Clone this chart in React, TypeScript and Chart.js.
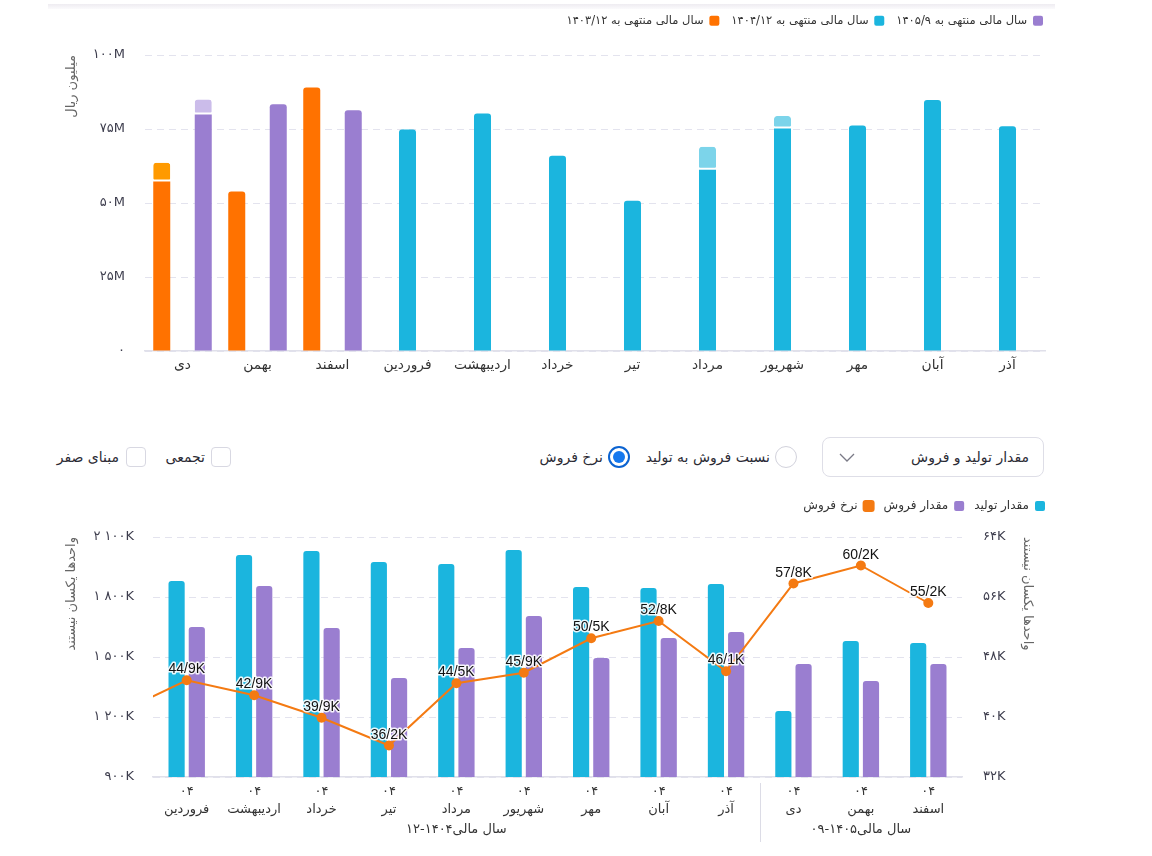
import React, { useEffect, useRef } from 'react';
import { Chart, registerables } from 'chart.js';

Chart.register(...registerables);

const FA_DIGITS = '۰۱۲۳۴۵۶۷۸۹';
const toFa = (s: string) => s.replace(/[0-9]/g, (d) => FA_DIGITS[Number(d)]);
const LRM = '\u200E';

const FONT = "'DejaVu Sans', sans-serif";
const LABEL_FONT = "'Liberation Sans', Arial, sans-serif";

const CYAN = '#1bb5de';
const CYAN_LIGHT = '#7cd4ea';
const PURPLE = '#9a7ed0';
const PURPLE_LIGHT = '#cbbcea';
const ORANGE = '#ff7200';
const ORANGE_LIGHT = '#ff9a00';
const LINE_ORANGE = '#f47a12';
const GRID = '#e3e3ee';
const AXIS = '#e0e0ea';
const TICK = '#3e3e4e';

// ---- monthly revenue (million rials) ----
const revenueMonths = ['دی', 'بهمن', 'اسفند', 'فروردین', 'اردیبهشت', 'خرداد', 'تیر', 'مرداد', 'شهریور', 'مهر', 'آبان', 'آذر'];
const revenueSeriesNames = ['سال مالی منتهی به ۱۴۰۳/۱۲', 'سال مالی منتهی به ۱۴۰۴/۱۲', 'سال مالی منتهی به ۱۴۰۵/۹'];
const fy1403 = [57.3, 53.9, 89.0, null, null, null, null, null, null, null, null, null];
const fy1403Extra = [6.3, null, null, null, null, null, null, null, null, null, null, null];
const fy1404 = [null, null, null, 74.8, 80.2, 66.0, 50.8, 61.2, 75.2, 76.2, 84.8, 75.9];
const fy1404Extra = [null, null, null, null, null, null, null, 7.8, 4.2, null, null, null];
const fy1405 = [79.9, 83.4, 81.3, null, null, null, null, null, null, null, null, null];
const fy1405Extra = [5.1, null, null, null, null, null, null, null, null, null, null, null];
const revenueAxisMin = 0;
const revenueAxisMax = 100;
const revenueAxisStep = 25;
const revenueAxisTitle = 'میلیون ریال';

// ---- production / sales (K units) and sale rate ----
const periodMonths = ['اسفند', 'فروردین', 'اردیبهشت', 'خرداد', 'تیر', 'مرداد', 'شهریور', 'مهر', 'آبان', 'آذر', 'دی', 'بهمن', 'اسفند'];
const periodYear = '۰۴';
const firstShownPeriod = 1;
const production = [null, 1880, 2010, 2030, 1975, 1965, 2035, 1850, 1845, 1865, 1230, 1580, 1570];
const sales = [null, 1650, 1855, 1645, 1395, 1545, 1705, 1495, 1595, 1625, 1465, 1380, 1465];
const saleRate = [40.6, 44.9, 42.9, 39.9, 36.2, 44.5, 45.9, 50.5, 52.8, 46.1, 57.8, 60.2, 55.2];
const periodSeriesNames = ['مقدار تولید', 'مقدار فروش', 'نرخ فروش'];
const fiscalGroups = ['سال مالی۱۴۰۴-۱۲', 'سال مالی۱۴۰۵-۰۹'];
const fiscalGroupFirst = [1, 10];
const fiscalGroupLast = [9, 12];
const qtyAxisMin = 900;
const qtyAxisMax = 2100;
const qtyAxisStep = 300;
const rateAxisMin = 32;
const rateAxisMax = 64;
const rateAxisStep = 8;
const unitsNote = 'واحدها یکسان نیستند';

const fmtK = (v: number) => {
  const th = Math.floor(v / 1000);
  const rest = v % 1000;
  const s = th ? `${th} ${String(rest).padStart(3, '0')}` : String(rest);
  return LRM + toFa(s) + 'K';
};

// extra room under the legend box, and an optional horizontal nudge
const legendTweak = (extra: number, dx: number) => ({
  id: 'legendTweak',
  beforeInit(chart: any) {
    const lg = chart.legend;
    if (!lg) return;
    const orig = lg.fit;
    lg.fit = function fit() {
      orig.call(this);
      this.height += extra;
    };
  },
  afterLayout(chart: any) {
    const lg = chart.legend;
    if (!lg || !dx) return;
    lg.left += dx;
    lg.right += dx;
  },
});

const rateLabels = {
  id: 'rateLabels',
  afterDatasetsDraw(chart: any) {
    const meta = chart.getDatasetMeta(2);
    const ctx = chart.ctx;
    ctx.save();
    ctx.font = `14px ${LABEL_FONT}`;
    ctx.textAlign = 'center';
    ctx.textBaseline = 'alphabetic';
    ctx.lineJoin = 'round';
    meta.data.forEach((pt: any, i: number) => {
      if (i < firstShownPeriod) return;
      const text = saleRate[i].toFixed(1).replace('.', '/') + 'K';
      ctx.lineWidth = 3;
      ctx.strokeStyle = 'rgba(255,255,255,0.9)';
      ctx.strokeText(text, pt.x, pt.y - 7);
      ctx.fillStyle = '#111';
      ctx.fillText(text, pt.x, pt.y - 7);
    });
    ctx.restore();
  },
};

const fiscalGroupLabels = {
  id: 'fiscalGroupLabels',
  afterDraw(chart: any) {
    const x = chart.scales.x;
    const area = chart.chartArea;
    const ctx = chart.ctx;
    ctx.save();
    ctx.font = `13px ${FONT}`;
    ctx.fillStyle = '#333';
    ctx.textAlign = 'center';
    ctx.textBaseline = 'middle';
    fiscalGroups.forEach((label, g) => {
      const cx = (x.getPixelForValue(fiscalGroupFirst[g]) + x.getPixelForValue(fiscalGroupLast[g])) / 2;
      ctx.fillText(label, cx, area.bottom + 53);
      if (g > 0) {
        const sx = Math.round((x.getPixelForValue(fiscalGroupFirst[g] - 1) + x.getPixelForValue(fiscalGroupFirst[g])) / 2) + 0.5;
        ctx.strokeStyle = '#dcdce6';
        ctx.lineWidth = 1;
        ctx.beginPath();
        ctx.moveTo(sx, area.bottom + 6);
        ctx.lineTo(sx, area.bottom + 65);
        ctx.stroke();
      }
    });
    ctx.restore();
  },
};

function RevenueChart() {
  const ref = useRef<HTMLCanvasElement>(null);
  useEffect(() => {
    const base = { borderRadius: 3, categoryPercentage: 0.83, barPercentage: 0.82, borderWidth: 0 };
    const extra = {
      borderRadius: 3,
      categoryPercentage: 0.83,
      barPercentage: 0.82,
      borderSkipped: false,
      borderWidth: { top: 0, left: 0, right: 0, bottom: 2 },
      borderColor: '#ffffff',
    };
    const chart = new Chart(ref.current as HTMLCanvasElement, {
      type: 'bar',
      data: {
        labels: revenueMonths,
        datasets: [
          { ...base, label: revenueSeriesNames[0], data: fy1403, backgroundColor: ORANGE, stack: 'a' },
          { ...extra, label: revenueSeriesNames[0], data: fy1403Extra, backgroundColor: ORANGE_LIGHT, stack: 'a' },
          { ...base, label: revenueSeriesNames[1], data: fy1404, backgroundColor: CYAN, stack: 'b' },
          { ...extra, label: revenueSeriesNames[1], data: fy1404Extra, backgroundColor: CYAN_LIGHT, stack: 'b' },
          { ...base, label: revenueSeriesNames[2], data: fy1405, backgroundColor: PURPLE, stack: 'c' },
          { ...extra, label: revenueSeriesNames[2], data: fy1405Extra, backgroundColor: PURPLE_LIGHT, stack: 'c' },
        ] as any,
      },
      options: {
        animation: false,
        responsive: false,
        layout: { padding: { right: 10, top: 3 } },
        plugins: {
          legend: {
            position: 'top',
            align: 'start',
            rtl: true,
            textDirection: 'rtl',
            reverse: true,
            labels: {
              filter: (it: any) => it.datasetIndex % 2 === 0,
              boxWidth: 10,
              boxHeight: 10,
              padding: 12,
              color: '#333',
              useBorderRadius: true,
              borderRadius: 2,
              font: { family: FONT, size: 11.5 },
            },
          },
          tooltip: { enabled: false },
        },
        scales: {
          x: {
            stacked: true,
            grid: { display: false, drawTicks: false },
            border: { display: true, color: AXIS, width: 1.5 },
            ticks: { font: { family: FONT, size: 13.8 }, color: '#333', padding: 6, maxRotation: 0, autoSkip: false },
            afterFit: (s: any) => { s.height = 39; },
          },
          y: {
            stacked: true,
            min: revenueAxisMin,
            max: revenueAxisMax,
            ticks: {
              stepSize: revenueAxisStep,
              padding: 20,
              color: TICK,
              font: { family: FONT, size: 13 },
              callback: (v: any) => LRM + (v === 0 ? toFa('0') : toFa(String(v)) + 'M'),
            },
            grid: { color: GRID, drawTicks: false, lineWidth: 1 },
            border: { display: false, dash: [7, 5] },
            title: {
              display: true,
              text: revenueAxisTitle,
              align: 'end',
              color: '#666',
              font: { family: FONT, size: 13 },
              padding: { top: 16, bottom: 0 },
            },
            afterFit: (s: any) => { s.width = 97; },
          },
        },
      } as any,
      plugins: [legendTweak(18.5, 10)],
    });
    return () => chart.destroy();
  }, []);
  return (
    <canvas
      ref={ref}
      width={1007}
      height={390}
      style={{ position: 'absolute', left: 48, top: 0, width: 1007, height: 390 }}
    />
  );
}

function PeriodChart() {
  const ref = useRef<HTMLCanvasElement>(null);
  useEffect(() => {
    const chart = new Chart(ref.current as HTMLCanvasElement, {
      type: 'bar',
      data: {
        labels: periodMonths.map((m) => [periodYear, m]),
        datasets: [
          {
            type: 'bar', label: periodSeriesNames[0], data: production, backgroundColor: CYAN, yAxisID: 'y',
            borderRadius: 3, categoryPercentage: 0.6, barPercentage: 0.8, order: 1,
          },
          {
            type: 'bar', label: periodSeriesNames[1], data: sales, backgroundColor: PURPLE, yAxisID: 'y',
            borderRadius: 3, categoryPercentage: 0.6, barPercentage: 0.8, order: 1,
          },
          {
            type: 'line', label: periodSeriesNames[2], data: saleRate, yAxisID: 'y1',
            borderColor: LINE_ORANGE, backgroundColor: LINE_ORANGE, borderWidth: 2,
            pointRadius: 5, pointBackgroundColor: LINE_ORANGE, pointBorderColor: LINE_ORANGE, pointBorderWidth: 0,
            tension: 0, order: 0,
          },
        ] as any,
      },
      options: {
        animation: false,
        responsive: false,
        plugins: {
          legend: {
            position: 'top',
            align: 'start',
            rtl: true,
            textDirection: 'rtl',
            labels: {
              sort: (a: any, b: any) => a.datasetIndex - b.datasetIndex,
              boxWidth: 10,
              boxHeight: 10,
              padding: 10,
              color: '#333',
              useBorderRadius: true,
              borderRadius: 2,
              font: { family: FONT, size: 12 },
            },
          },
          tooltip: { enabled: false },
        },
        scales: {
          x: {
            min: firstShownPeriod,
            grid: { display: false, drawTicks: false },
            border: { display: true, color: AXIS, width: 1.5 },
            ticks: {
              font: { family: FONT, size: 13, lineHeight: 1.385 },
              color: '#333',
              padding: 6,
              maxRotation: 0,
              autoSkip: false,
            },
            afterFit: (s: any) => { s.height = 79; },
          },
          y: {
            position: 'left',
            min: qtyAxisMin,
            max: qtyAxisMax,
            ticks: {
              stepSize: qtyAxisStep,
              padding: 19,
              color: TICK,
              font: { family: FONT, size: 13 },
              callback: (v: any) => fmtK(Number(v)),
            },
            grid: { color: GRID, drawTicks: false, lineWidth: 1 },
            border: { display: false, dash: [7, 5] },
            title: {
              display: true,
              text: unitsNote,
              align: 'end',
              color: '#666',
              font: { family: FONT, size: 13 },
              padding: { top: 16, bottom: 0 },
            },
            afterFit: (s: any) => { s.width = 105; },
          },
          y1: {
            position: 'right',
            min: rateAxisMin,
            max: rateAxisMax,
            ticks: {
              stepSize: rateAxisStep,
              padding: 21,
              color: TICK,
              font: { family: FONT, size: 13 },
              callback: (v: any) => LRM + toFa(String(v)) + 'K',
            },
            grid: { display: false, drawTicks: false },
            border: { display: false },
            title: {
              display: true,
              text: unitsNote,
              align: 'end',
              color: '#666',
              font: { family: FONT, size: 13 },
              padding: { top: 20, bottom: 0 },
            },
            afterFit: (s: any) => { s.width = 93; },
          },
        },
      } as any,
      plugins: [legendTweak(15, 0), rateLabels, fiscalGroupLabels],
    });
    return () => chart.destroy();
  }, []);
  return (
    <canvas
      ref={ref}
      width={1007}
      height={366}
      style={{ position: 'absolute', left: 48, top: 490, width: 1007, height: 366 }}
    />
  );
}

const textStyle: React.CSSProperties = {
  position: 'absolute',
  fontFamily: FONT,
  fontSize: 14,
  color: '#2b2b35',
  lineHeight: '20px',
  whiteSpace: 'nowrap',
  direction: 'rtl',
};

function Controls() {
  return (
    <>
      {/* view selector */}
      <div
        style={{
          position: 'absolute', left: 822, top: 437, width: 222, height: 40, boxSizing: 'border-box',
          border: '1px solid #dedee7', borderRadius: 8, background: '#fff',
        }}
      >
        <span style={{ ...textStyle, right: 14, top: 9 }}>مقدار تولید و فروش</span>
        <svg width="16" height="10" style={{ position: 'absolute', left: 16, top: 15 }}>
          <polyline points="1,1 8,8 15,1" fill="none" stroke="#7a7a86" strokeWidth="1.3" />
        </svg>
      </div>

      {/* radio: ratio */}
      <div
        style={{
          position: 'absolute', left: 775, top: 446, width: 22, height: 22, boxSizing: 'border-box',
          borderRadius: '50%', border: '1px solid #d2d2dc', background: '#fff',
        }}
      />
      <span style={{ ...textStyle, right: 1152 - 770, top: 447 }}>نسبت فروش به تولید</span>

      {/* radio: sale rate (selected) */}
      <div
        style={{
          position: 'absolute', left: 608, top: 446, width: 22, height: 22, boxSizing: 'border-box',
          borderRadius: '50%', border: '2px solid #0b63d1', background: '#fff',
        }}
      >
        <div
          style={{
            position: 'absolute', left: 3, top: 3, width: 12, height: 12, borderRadius: '50%', background: '#1578ee',
          }}
        />
      </div>
      <span style={{ ...textStyle, right: 1152 - 603, top: 447 }}>نرخ فروش</span>

      {/* checkbox: cumulative */}
      <div
        style={{
          position: 'absolute', left: 211, top: 447, width: 20, height: 20, boxSizing: 'border-box',
          borderRadius: 4, border: '1px solid #d8d8e2', background: '#fff',
        }}
      />
      <span style={{ ...textStyle, right: 1152 - 205, top: 447 }}>تجمعی</span>

      {/* checkbox: zero base */}
      <div
        style={{
          position: 'absolute', left: 126, top: 447, width: 20, height: 20, boxSizing: 'border-box',
          borderRadius: 4, border: '1px solid #d8d8e2', background: '#fff',
        }}
      />
      <span style={{ ...textStyle, right: 1152 - 119, top: 447 }}>مبنای صفر</span>
    </>
  );
}

export default function App() {
  return (
    <div style={{ position: 'fixed', left: 0, top: 0, width: 1152, height: 856, background: '#fff', overflow: 'hidden' }}>
      <div
        style={{
          position: 'absolute', left: 48, top: 4, width: 1007, height: 5,
          background: 'linear-gradient(to bottom, #eeecf1, #fbfafc)',
        }}
      />
      <RevenueChart />
      <Controls />
      <PeriodChart />
    </div>
  );
}
